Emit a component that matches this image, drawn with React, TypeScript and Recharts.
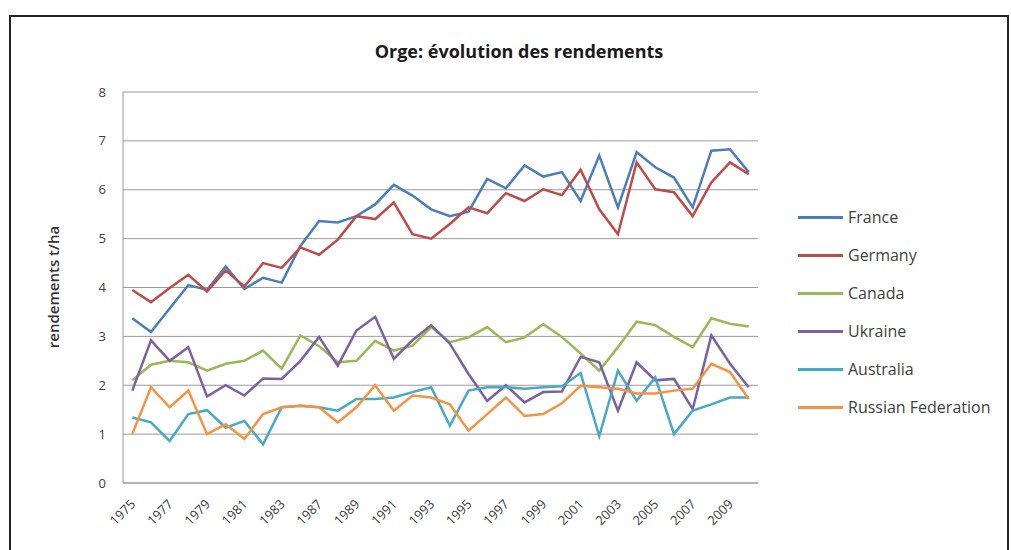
import { LineChart, Line, XAxis, YAxis, CartesianGrid } from 'recharts';

// années (une catégorie sans étiquette entre 1983 et 1987)
const years = ['1975', '1976', '1977', '1978', '1979', '1980', '1981', '1982', '1983', '1985',
    '1987', '1988', '1989', '1990', '1991', '1992', '1993', '1994', '1995', '1996', '1997', '1998',
    '1999', '2000', '2001', '2002', '2003', '2004', '2005', '2006', '2007', '2008', '2009', '2010'];

const france = [3.37, 3.09, 3.57, 4.05, 3.95, 4.43, 3.97, 4.2, 4.1, 4.85, 5.36, 5.33, 5.46, 5.7, 6.1, 5.88, 5.6,
    5.46, 5.55, 6.22, 6.03, 6.5, 6.27, 6.36, 5.77, 6.7, 5.64, 6.77, 6.46, 6.25, 5.64, 6.8, 6.83, 6.36];
const germany = [3.95, 3.7, 3.99, 4.26, 3.92, 4.35, 4.02, 4.5, 4.4, 4.82, 4.67, 4.98, 5.46, 5.4, 5.74, 5.09, 5.0,
    5.3, 5.64, 5.52, 5.93, 5.77, 6.01, 5.89, 6.41, 5.6, 5.09, 6.56, 6.01, 5.95, 5.46, 6.15, 6.56, 6.32];
const canada = [2.1, 2.42, 2.5, 2.47, 2.3, 2.44, 2.5, 2.71, 2.34, 3.02, 2.8, 2.47, 2.5, 2.91, 2.71, 2.81, 3.19,
    2.88, 2.98, 3.19, 2.88, 2.98, 3.25, 2.99, 2.65, 2.3, 2.78, 3.3, 3.23, 2.99, 2.78, 3.37, 3.26, 3.2];
const ukraine = [1.89, 2.92, 2.5, 2.78, 1.77, 2.0, 1.79, 2.14, 2.13, 2.5, 2.99, 2.4, 3.12, 3.4, 2.54, 2.92, 3.23,
    2.85, 2.23, 1.68, 2.0, 1.65, 1.86, 1.87, 2.58, 2.47, 1.48, 2.47, 2.1, 2.13, 1.51, 3.02, 2.44, 1.96];
const australia = [1.34, 1.24, 0.86, 1.41, 1.49, 1.13, 1.27, 0.79, 1.55, 1.58, 1.55, 1.48, 1.72, 1.72, 1.75, 1.86,
    1.96, 1.17, 1.89, 1.96, 1.96, 1.93, 1.96, 1.98, 2.25, 0.96, 2.3, 1.68, 2.16, 1.0, 1.48, 1.61, 1.75, 1.75];
const russia = [1.0, 1.96, 1.55, 1.89, 1.0, 1.2, 0.9, 1.41, 1.55, 1.58, 1.55, 1.24, 1.55, 2.0, 1.48, 1.79, 1.75,
    1.61, 1.07, 1.41, 1.75, 1.37, 1.41, 1.63, 1.99, 1.96, 1.93, 1.83, 1.83, 1.89, 1.93, 2.44, 2.27, 1.72];

const yTicks = [0, 1, 2, 3, 4, 5, 6, 7, 8];

const series = [
    { key: 'France', values: france, color: '#4A7EBB' },
    { key: 'Germany', values: germany, color: '#BE4B48' },
    { key: 'Canada', values: canada, color: '#98B954' },
    { key: 'Ukraine', values: ukraine, color: '#7D60A0' },
    { key: 'Australia', values: australia, color: '#46AAC5' },
    { key: 'Russian Federation', values: russia, color: '#F69240' },
];

const chartData = years.map((year, i) => {
    const row: Record<string, string | number> = { year };
    series.forEach(s => { row[s.key] = s.values[i]; });
    return row;
});

const FONT = '"Open Sans", sans-serif';

// étiquettes de l'axe X inclinées à -45°
const YearTick = (props: any) => {
    const { x, y, payload } = props;
    return (
        <text x={x + 4} y={y + 14} transform={`rotate(-45, ${x + 4}, ${y + 14})`} textAnchor="end"
            fontSize={13} fontFamily={FONT} fill="#404040">
            {payload.value}
        </text>
    );
};

const App = () => {
    return (
        <div style={{ position: 'relative', width: 1011, height: 550, overflow: 'hidden', background: '#fff' }}>
            <style>{'body{margin:0;overflow:hidden}'}</style>
            {/* cadre du graphique */}
            <div style={{ position: 'absolute', left: 9, top: 15, width: 996, height: 560, border: '2px solid #222', borderBottom: 'none' }} />
            <div style={{ position: 'absolute', left: 0, width: 1038, top: 39, textAlign: 'center', fontFamily: FONT, fontWeight: 700, fontSize: 18, color: '#1a1a1a' }}>
                Orge: évolution des rendements
            </div>
            <div style={{ position: 'absolute', left: 53, top: 287, transform: 'translate(-50%, -50%) rotate(-90deg)', whiteSpace: 'nowrap', fontFamily: FONT, fontWeight: 600, fontSize: 15, color: '#333' }}>
                rendements t/ha
            </div>
            <div style={{ position: 'absolute', left: 0, top: 0 }}>
                <LineChart width={1011} height={550} data={chartData} margin={{ top: 92, right: 253, bottom: 10, left: 63 }}>
                    <CartesianGrid vertical={false} stroke="#9a9a9a" />
                    <XAxis dataKey="year" interval={1} tick={<YearTick />} tickLine={false} height={57}
                        axisLine={{ stroke: '#9a9a9a' }} padding={{ left: 9.3, right: 9.3 }} />
                    <YAxis domain={[0, 8]} ticks={yTicks} width={60} tickLine={false} tickSize={0} tickMargin={17}
                        axisLine={{ stroke: '#9a9a9a' }} tick={{ fontSize: 13, fontFamily: FONT, fill: '#404040' }} />
                    {series.map(s => (
                        <Line key={s.key} type="linear" dataKey={s.key} stroke={s.color} strokeWidth={2.5}
                            dot={false} isAnimationActive={false} />
                    ))}
                </LineChart>
            </div>
            {/* légende */}
            <div style={{ position: 'absolute', left: 798, top: 198, fontFamily: FONT, fontSize: 16, color: '#404040' }}>
                {series.map(s => (
                    <div key={s.key} style={{ height: 38, display: 'flex', alignItems: 'center' }}>
                        <div style={{ width: 45, height: 3, background: s.color, marginRight: 5 }} />
                        <span>{s.key}</span>
                    </div>
                ))}
            </div>
        </div>
    );
};

export default App;
